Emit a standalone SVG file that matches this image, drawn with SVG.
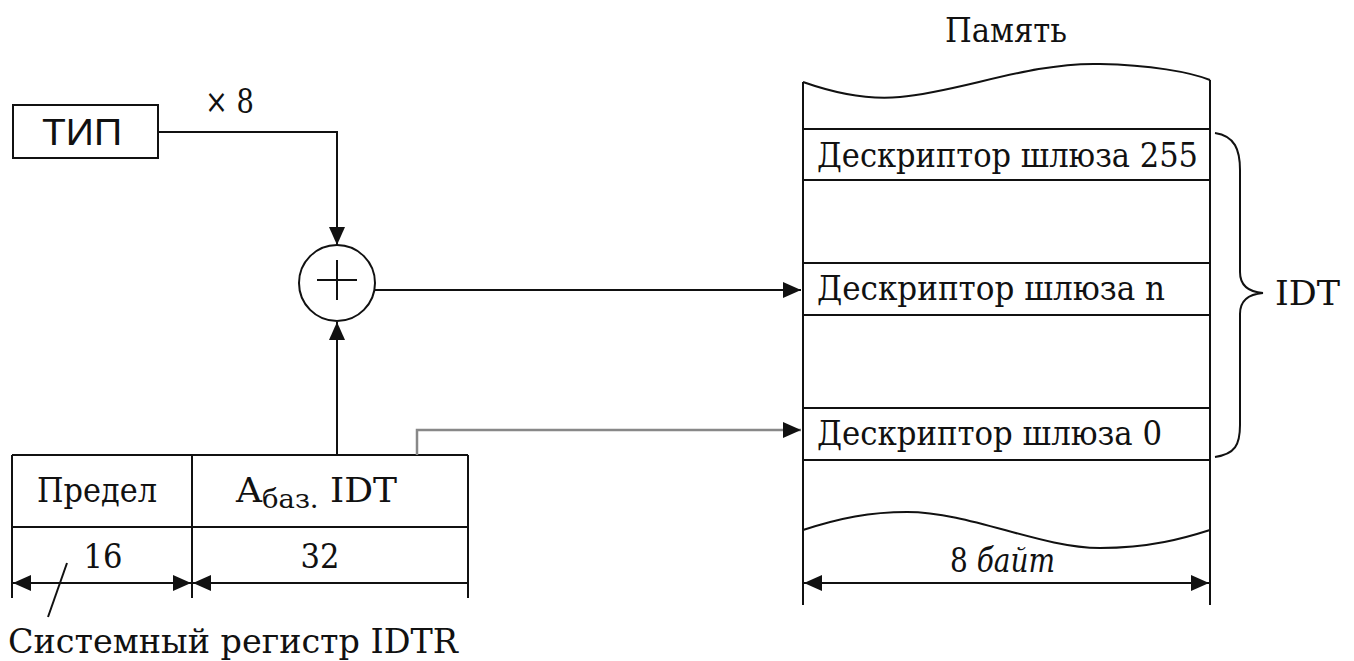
<svg xmlns="http://www.w3.org/2000/svg" width="1354" height="661" viewBox="0 0 1354 661">
<style>
.ln{stroke:#111;stroke-width:2;fill:none}
.gr{stroke:#888;stroke-width:2.5;fill:none}
.t{font-family:'DejaVu Serif Condensed','DejaVu Serif','Liberation Serif',serif;font-size:34px;fill:#111}
.s{font-family:'Liberation Sans',Arial,sans-serif;font-size:36px;fill:#111}
</style>
<defs>
<marker id="ah" markerUnits="userSpaceOnUse" markerWidth="20" markerHeight="16" refX="18" refY="8" orient="auto-start-reverse" viewBox="0 0 20 16">
<path d="M0,0 L18,8 L0,16 Z" fill="#111"/>
</marker>
</defs>
<rect width="1354" height="661" fill="#fff"/>

<g id="tip">
<rect x="13" y="105" width="145" height="53" class="ln"/>
<text x="42" y="145" class="s" textLength="80" lengthAdjust="spacingAndGlyphs">ТИП</text>
</g>
<text x="205" y="113" class="t" font-size="32" textLength="49" lengthAdjust="spacingAndGlyphs">× 8</text>

<g id="adder">
<circle cx="337" cy="283" r="38" class="ln"/>
<path d="M317,280 H357 M337,260 V300" class="ln"/>
</g>

<g id="idtr">
<path d="M12,455 H468 M12,527 H468 M12,455 V598 M192,455 V598 M468,455 V598" class="ln"/>
<text x="37" y="502" class="t" textLength="120" lengthAdjust="spacingAndGlyphs">Предел</text>
<text x="236" y="502" class="t" textLength="161" lengthAdjust="spacingAndGlyphs">A<tspan font-size="26" dy="6">баз.</tspan><tspan dy="-6"> IDT</tspan></text>
<text x="103" y="568" class="t" font-size="29" text-anchor="middle">16</text>
<text x="320" y="568" class="t" font-size="29" text-anchor="middle">32</text>
<path d="M67,563 L48,617" class="ln" stroke-width="1.5"/>
<text x="8" y="653" class="t" textLength="450" lengthAdjust="spacingAndGlyphs">Системный регистр IDTR</text>
<path d="M13,583 H191" class="ln" marker-start="url(#ah)" marker-end="url(#ah)"/>
<path d="M193,583 H468" class="ln" marker-start="url(#ah)"/>
</g>

<text x="945" y="42" class="t" textLength="122" lengthAdjust="spacingAndGlyphs">Память</text>

<g id="memory">
<path d="M803,82 C840,95 870,100 900,97 C960,92 1030,62 1100,64 C1150,65 1190,72 1210,80" class="ln" stroke-width="1.6"/>
<path d="M803,530 C840,518 870,512 907,512 C970,512 1040,548 1100,548 C1150,548 1185,538 1210,530" class="ln" stroke-width="1.6"/>
<path d="M803,82 V605 M1210,80 V605" class="ln"/>
<path d="M803,129 H1210 M803,180 H1210 M803,263 H1210 M803,315 H1210 M803,408 H1210 M803,460 H1210" class="ln"/>
</g>
<g id="d255"><text x="817" y="167" class="t" textLength="381" lengthAdjust="spacingAndGlyphs">Дескриптор шлюза 255</text></g>
<g id="dn"><text x="817" y="300" class="t" textLength="348" lengthAdjust="spacingAndGlyphs">Дескриптор шлюза n</text></g>
<g id="d0"><text x="817" y="445" class="t" textLength="345" lengthAdjust="spacingAndGlyphs">Дескриптор шлюза 0</text></g>
<path d="M804,583 H1209" class="ln" marker-start="url(#ah)" marker-end="url(#ah)"/>
<text x="950" y="572" class="t" textLength="105" lengthAdjust="spacingAndGlyphs">8 <tspan font-style="italic">байт</tspan></text>

<g id="brace">
<path d="M1215,133 C1235,136 1240,150 1240,170 V272 C1240,286 1250,292 1263,293 C1250,294 1240,300 1240,314 V425 C1240,445 1235,454 1215,457" class="ln" stroke-width="1.6"/>
<text x="1275" y="305" class="t" textLength="65" lengthAdjust="spacingAndGlyphs">IDT</text>
</g>

<g id="connectors">
<path d="M158,132 H337 V245" class="ln" marker-end="url(#ah)"/>
<path d="M337,455 V322" class="ln" marker-end="url(#ah)"/>
<path d="M375,290 H801" class="ln" marker-end="url(#ah)"/>
<path d="M417,455 V430 H801" class="gr" marker-end="url(#ah)"/>
</g>
</svg>
